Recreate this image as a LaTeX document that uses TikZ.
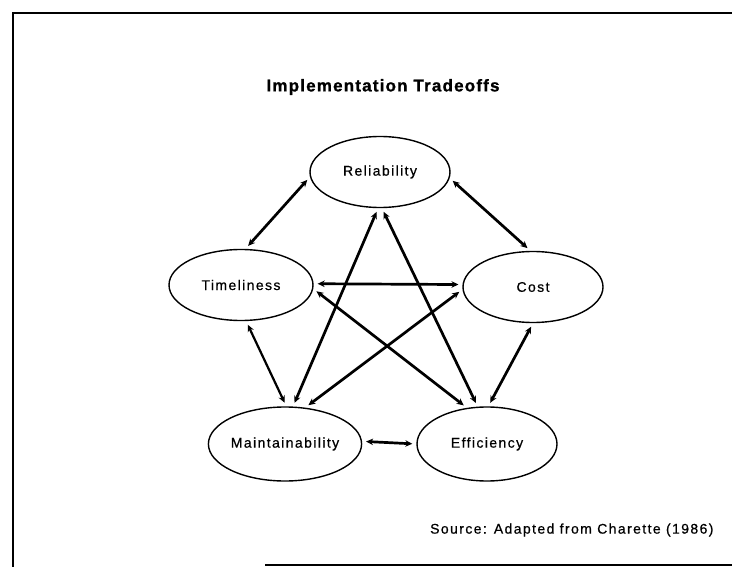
\documentclass[tikz,border=0pt]{standalone}
\usepackage{fontspec}
\setmainfont{Liberation Sans}
\newfontfamily\lblfont[LetterSpace=10,FakeBold=0.6]{Liberation Sans}
\newfontfamily\ttlfont[LetterSpace=7,FakeBold=1]{Liberation Sans Bold}
\usetikzlibrary{shapes.geometric,arrows.meta}
\begin{document}
\begin{tikzpicture}[x=1pt,y=-1pt,
  factor/.style={ellipse,draw,line width=1.4pt,minimum width=140pt,minimum height=71pt,
    inner sep=0pt,font=\lblfont\fontsize{14}{16}\selectfont},
  link/.style={line width=2.7pt,{Stealth[length=7pt,width=6.5pt]}-{Stealth[length=7pt,width=6.5pt]},
    shorten <=4pt,shorten >=4pt},
  frame/.style={line width=2.8pt}]
\useasboundingbox (0,0) rectangle (732,567);

% page frame
\draw[frame] (13,567) -- (13,13) -- (732,13);
\draw[frame] (265,565) -- (732,565);

% title and source line
\node (title) at (383,87) {\ttlfont\fontsize{17}{20}\selectfont Implementation Tradeoffs};
\node[anchor=east] (src) at (717,530) {\lblfont\fontsize{14}{16}\selectfont Source: Adapted from Charette (1986)};

% the five quality factors
\node[factor] (rel)   at (380,172) {Reliability};
\node[factor, minimum width=144pt] (tim) at (241,285) {Timeliness};
\node[factor] (cost)  at (533,287) {Cost};
\node[factor, minimum height=74pt] (maint) at (285,444) {Maintainability};
\node[factor, minimum height=74pt] (eff)   at (487,444) {Efficiency};

% pairwise tradeoffs
\draw[link] (rel.184) -- (tim.83);
\draw[link] (rel.-5) -- (cost.94);
\draw[link] (rel.-93) -- (maint.78);
\draw[link] (rel.-87) -- (eff.104);
\draw[link] (tim.1) -- (cost.178);
\draw[link] (tim.-3) -- (eff.119);
\draw[link] (cost.182) -- (maint.61);
\draw[link,line width=2.2pt] (tim.-82) -- (maint.88);
\draw[link] (cost.-90) -- (eff.88);
\draw[link] (maint.2) -- (eff.180);
\end{tikzpicture}
\end{document}
